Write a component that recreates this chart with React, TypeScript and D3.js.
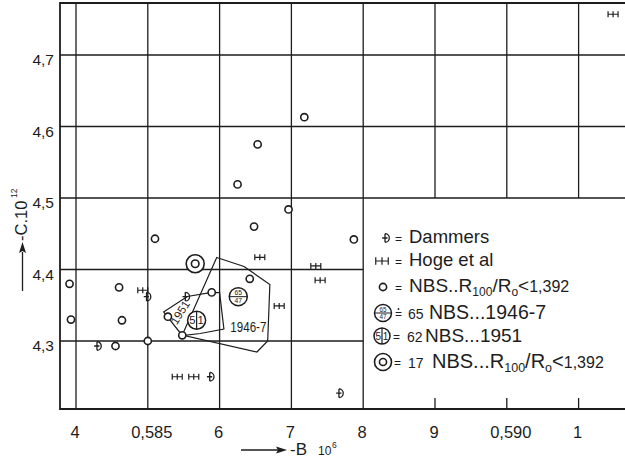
import React from "react";
import * as d3 from "d3";

// Axis ticks: -B·10^6 (horizontal) and -C·10^12 (vertical)
const bTicks = [0.584, 0.585, 0.586, 0.587, 0.588, 0.589, 0.59, 0.591];
const bTickLabels = ["4", "0,585", "6", "7", "8", "9", "0,590", "1"];
const cTicks = [4.3, 4.4, 4.5, 4.6, 4.7];
const cTickLabels = ["4,3", "4,4", "4,5", "4,6", "4,7"];

// NBS, R100/R0 < 1,392 (small open circles)
const nbsPoints: [number, number][] = [
  [0.58391, 4.38], [0.58393, 4.33], [0.5846, 4.375], [0.58464, 4.329],
  [0.58455, 4.293], [0.585, 4.3], [0.5851, 4.443], [0.58528, 4.334],
  [0.58589, 4.368], [0.58642, 4.387], [0.58625, 4.519], [0.58653, 4.575],
  [0.58718, 4.613], [0.58696, 4.484], [0.58648, 4.46], [0.58787, 4.442],
  [0.58548, 4.308],
];

// Hoge et al
const hogePoints: [number, number][] = [
  [0.58493, 4.371], [0.58656, 4.417], [0.58734, 4.405], [0.5874, 4.385],
  [0.58683, 4.349], [0.58541, 4.25], [0.58564, 4.25], [0.59148, 4.757],
];

// Dammers
const dammersPoints: [number, number][] = [
  [0.58432, 4.293], [0.58501, 4.362], [0.58555, 4.362], [0.58589, 4.25],
  [0.58769, 4.227],
];

// Mean values of the NBS groups
const nbs17Mean: [number, number] = [0.58566, 4.408];
const nbs65Mean: [number, number] = [0.58626, 4.362];
const nbs62Mean: [number, number] = [0.58568, 4.329];

// Outlines of the NBS 1946-7 and 1951 groups
const region1946: [number, number][] = [
  [0.58596, 4.4168], [0.58634, 4.4042], [0.5867, 4.379], [0.58667, 4.3],
  [0.58652, 4.2846], [0.58548, 4.3084],
];
const region1951: [number, number][] = [
  [0.58522, 4.3406], [0.58555, 4.3622], [0.58589, 4.3681], [0.586, 4.3676],
  [0.58606, 4.3168], [0.58573, 4.3105], [0.58548, 4.3077],
];
const label1951: [number, number] = [0.58545, 4.3399];
const label1946: [number, number] = [0.58615, 4.3126];

const W = 625;
const H = 458;
const frame = { left: 60, top: 3, right: 625, bottom: 409 };
const INK = "#1d1d1d";
const FONT = "'Liberation Sans', Arial, sans-serif";

const x = d3.scaleLinear().domain([0.584, 0.591]).range([76, 578.6]);
const y = d3.scaleLinear().domain([4.3, 4.7]).range([341, 55]);

// grid lines beyond these values stop at the legend box
const legendB = 0.588;
const legendC = 4.5;

const outline = d3
  .line<[number, number]>()
  .x((d) => x(d[0]))
  .y((d) => y(d[1]))
  .curve(d3.curveLinearClosed);

function Dammers({ cx, cy, s = 1 }: { cx: number; cy: number; s?: number }) {
  const r = 4.3 * s;
  const l = cx - 2 * s;
  return (
    <path
      d={`M${l},${cy - r}V${cy + r}M${l},${cy - r}A${r},${r} 0 0 1 ${l},${cy + r}M${cx - 4.8 * s},${cy}H${cx + 0.5 * s}`}
      fill="none"
      stroke={INK}
      strokeWidth={1.3}
    />
  );
}

function Hoge({ cx, cy, s = 1 }: { cx: number; cy: number; s?: number }) {
  const w = 5 * s;
  const h = 3 * s;
  return (
    <path
      d={`M${cx - w},${cy}H${cx + w}M${cx - w},${cy - h}V${cy + h}M${cx},${cy - h}V${cy + h}M${cx + w},${cy - h}V${cy + h}`}
      fill="none"
      stroke={INK}
      strokeWidth={1.2}
    />
  );
}

function Nbs({ cx, cy }: { cx: number; cy: number }) {
  return <circle cx={cx} cy={cy} r={3.6} fill="white" stroke={INK} strokeWidth={1.6} />;
}

function Nbs65({ cx, cy, r = 9 }: { cx: number; cy: number; r?: number }) {
  return (
    <g>
      <circle cx={cx} cy={cy} r={r} fill="white" stroke={INK} strokeWidth={1.5} />
      <line x1={cx - r} x2={cx + r} y1={cy} y2={cy} stroke={INK} strokeWidth={1} />
      <text x={cx} y={cy - 1.5} textAnchor="middle" fontSize={r * 0.75} fontFamily={FONT} fill={INK}>65</text>
      <text x={cx} y={cy + r * 0.75} textAnchor="middle" fontSize={r * 0.75} fontFamily={FONT} fill={INK}>47</text>
    </g>
  );
}

function Nbs62({ cx, cy, r = 9 }: { cx: number; cy: number; r?: number }) {
  return (
    <g>
      <circle cx={cx} cy={cy} r={r} fill="white" stroke={INK} strokeWidth={1.5} />
      <line x1={cx} x2={cx} y1={cy - r} y2={cy + r} stroke={INK} strokeWidth={1.2} />
      <text x={cx - r * 0.48} y={cy + r * 0.45} textAnchor="middle" fontSize={r * 1.25} fontFamily={FONT} fill={INK}>5</text>
      <text x={cx + r * 0.45} y={cy + r * 0.45} textAnchor="middle" fontSize={r * 1.25} fontFamily={FONT} fill={INK}>1</text>
    </g>
  );
}

function Nbs17({ cx, cy, r = 9 }: { cx: number; cy: number; r?: number }) {
  return (
    <g>
      <circle cx={cx} cy={cy} r={r} fill="white" stroke={INK} strokeWidth={1.6} />
      <circle cx={cx} cy={cy} r={r * 0.42} fill="none" stroke={INK} strokeWidth={1.6} />
    </g>
  );
}

function Eq({ xPos, yPos, dot = false }: { xPos: number; yPos: number; dot?: boolean }) {
  return (
    <g>
      <text x={xPos} y={yPos} fontSize={12} fontFamily={FONT} fill={INK}>=</text>
      {dot && <circle cx={xPos + 3.5} cy={yPos - 9} r={0.9} fill={INK} />}
    </g>
  );
}

export default function App() {
  const xl = x(legendB);
  const yl = y(legendC);
  return (
    <svg
      width={W}
      height={H}
      viewBox={`0 0 ${W} ${H}`}
      style={{ position: "absolute", left: 0, top: 0, background: "white" }}
    >
      <rect width={W} height={H} fill="white" />

      {/* vertical grid */}
      {bTicks.map((b) => (
        <g key={`vb${b}`}>
          <line
            x1={x(b)}
            x2={x(b)}
            y1={frame.top}
            y2={b > legendB + 1e-9 ? yl : frame.bottom}
            stroke={INK}
            strokeWidth={1.3}
          />
          {b > legendB + 1e-9 && (
            <line x1={x(b)} x2={x(b)} y1={frame.bottom - 11} y2={frame.bottom} stroke={INK} strokeWidth={1.3} />
          )}
        </g>
      ))}

      {/* horizontal grid */}
      {cTicks.map((c) => (
        <line
          key={`hc${c}`}
          x1={frame.left}
          x2={c < legendC - 1e-9 ? xl : frame.right}
          y1={y(c)}
          y2={y(c)}
          stroke={INK}
          strokeWidth={1.3}
        />
      ))}

      {/* frame */}
      <path
        d={`M${frame.right},${frame.top}H${frame.left}V${frame.bottom}H${frame.right}`}
        fill="none"
        stroke={INK}
        strokeWidth={1.8}
      />

      {/* tick labels */}
      {cTicks.map((c, i) => (
        <text key={`ct${c}`} x={54} y={y(c) + 10} textAnchor="end" fontSize={15.5} fontFamily={FONT} fill={INK}>
          {cTickLabels[i]}
        </text>
      ))}
      {bTicks.map((b, i) => (
        <text
          key={`bt${b}`}
          x={x(b) + (bTickLabels[i].length > 1 ? 4 : -1)}
          y={438}
          textAnchor="middle"
          fontSize={16.5}
          fontFamily={FONT}
          fill={INK}
        >
          {bTickLabels[i]}
        </text>
      ))}

      {/* axis titles */}
      <g>
        <line x1={241} x2={278} y1={450} y2={450} stroke={INK} strokeWidth={1.3} />
        <path d="M287,450 L276,446.5 L278,450 L276,453.5 Z" fill={INK} />
        <text x={290} y={455} fontSize={17} fontFamily={FONT} fill={INK}>-B</text>
        <text x={318} y={455} fontSize={12} fontFamily={FONT} fill={INK}>10</text>
        <text x={332} y={448} fontSize={8.5} fontFamily={FONT} fill={INK}>6</text>
      </g>
      <g>
        <line x1={22.5} x2={22.5} y1={291} y2={252} stroke={INK} strokeWidth={1.3} />
        <path d="M22.5,242 L19,253 L22.5,251 L26,253 Z" fill={INK} />
        <g transform="translate(27,241) rotate(-90)">
          <text x={0} y={0} fontSize={16.5} fontFamily={FONT} fill={INK}>
            -C.10
          </text>
          <text x={43} y={-10} fontSize={8.5} fontFamily={FONT} fill={INK}>12</text>
        </g>
      </g>

      {/* group outlines */}
      <path d={outline(region1946) ?? ""} fill="none" stroke={INK} strokeWidth={1.2} />
      <path d={outline(region1951) ?? ""} fill="none" stroke={INK} strokeWidth={1.2} />
      <text
        transform={`translate(${x(label1951[0])},${y(label1951[1])}) rotate(-58)`}
        textAnchor="middle"
        dominantBaseline="central"
        fontSize={11.5}
        fontFamily={FONT}
        fill={INK}
      >
        1951
      </text>
      <text
        x={x(label1946[0])}
        y={y(label1946[1])}
        fontSize={14}
        textLength={36}
        lengthAdjust="spacingAndGlyphs"
        fontFamily={FONT}
        fill={INK}
      >
        1946-7
      </text>

      {/* observations */}
      {hogePoints.map((p, i) => (
        <Hoge key={`h${i}`} cx={x(p[0])} cy={y(p[1])} />
      ))}
      {nbsPoints.map((p, i) => (
        <Nbs key={`n${i}`} cx={x(p[0])} cy={y(p[1])} />
      ))}
      {dammersPoints.map((p, i) => (
        <Dammers key={`d${i}`} cx={x(p[0])} cy={y(p[1])} />
      ))}
      <Nbs17 cx={x(nbs17Mean[0])} cy={y(nbs17Mean[1])} />
      <Nbs65 cx={x(nbs65Mean[0])} cy={y(nbs65Mean[1])} />
      <Nbs62 cx={x(nbs62Mean[0])} cy={y(nbs62Mean[1])} />

      {/* legend */}
      <g fill={INK} fontFamily={FONT}>
        <Dammers cx={387} cy={238} />
        <Eq xPos={395} yPos={243} />
        <text x={409} y={243} fontSize={18.5}>Dammers</text>

        <Hoge cx={382} cy={261} s={1.25} />
        <Eq xPos={395} yPos={266} />
        <text x={409} y={266} fontSize={18.5}>Hoge et al</text>

        <Nbs cx={383} cy={287} />
        <Eq xPos={395} yPos={292} />
        <text x={409} y={292} fontSize={19}>
          NBS..R
          <tspan fontSize={12} dy={4}>100</tspan>
          <tspan dy={-4}>/R</tspan>
          <tspan fontSize={12} dy={4}>o</tspan>
          <tspan dy={-4}>{"<"}</tspan>
          <tspan fontSize={16}>1,392</tspan>
        </text>

        <Nbs65 cx={383} cy={313} r={8.5} />
        <Eq xPos={395} yPos={318} dot />
        <text x={408} y={319} fontSize={14}>65</text>
        <text x={429} y={319} fontSize={19.5}>NBS...1946-7</text>

        <Nbs62 cx={382} cy={336} r={8} />
        <Eq xPos={393} yPos={341} />
        <text x={407} y={342} fontSize={14}>62</text>
        <text x={425} y={342} fontSize={19}>NBS...1951</text>

        <Nbs17 cx={383} cy={362} r={8.5} />
        <Eq xPos={394} yPos={367} />
        <text x={408} y={368} fontSize={14}>17</text>
        <text x={432} y={368} fontSize={20}>
          NBS...R
          <tspan fontSize={12.5} dy={4}>100</tspan>
          <tspan dy={-4}>/R</tspan>
          <tspan fontSize={12.5} dy={4}>o</tspan>
          <tspan dy={-4}>{"<"}</tspan>
          <tspan fontSize={16}>1,392</tspan>
        </text>
      </g>
    </svg>
  );
}
